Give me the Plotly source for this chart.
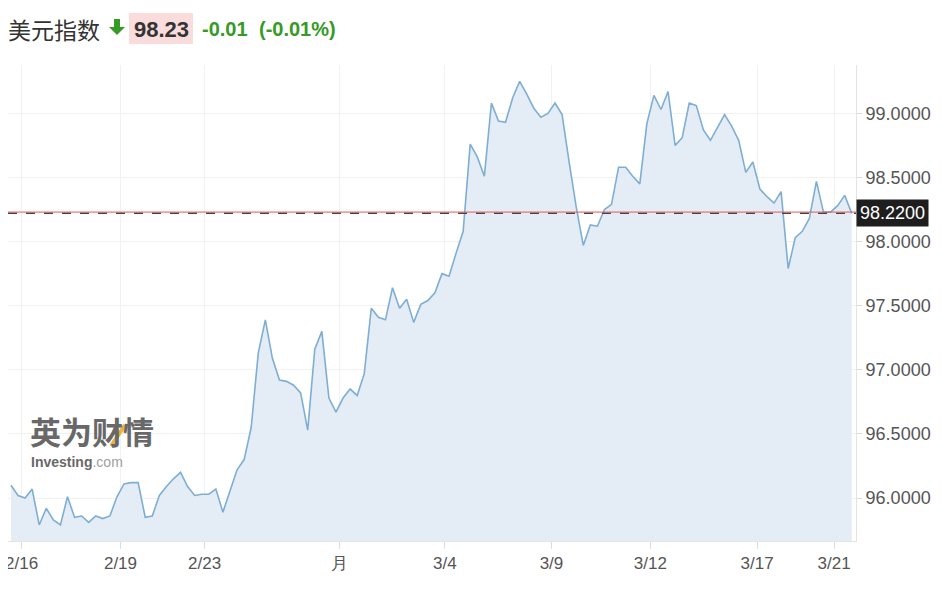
import plotly.graph_objects as go

# US dollar index, intraday closes (one value per bar)
dxy_close = [
    96.10, 96.02, 96.00, 96.07, 95.79, 95.92, 95.83, 95.79, 96.01, 95.85,
    95.86, 95.81, 95.86, 95.84, 95.86, 96.01, 96.11, 96.12, 96.12, 95.85,
    95.86, 96.02, 96.09, 96.15, 96.20, 96.09, 96.02, 96.03, 96.03, 96.07,
    95.89, 96.06, 96.22, 96.30, 96.55, 97.13, 97.39, 97.09, 96.92, 96.91,
    96.88, 96.82, 96.53, 97.16, 97.30, 96.78, 96.67, 96.78, 96.85, 96.80,
    96.97, 97.48, 97.41, 97.39, 97.64, 97.48, 97.55, 97.37, 97.51, 97.54,
    97.60, 97.75, 97.73, 97.91, 98.08, 98.76, 98.66, 98.51, 99.08, 98.94,
    98.93, 99.12, 99.25, 99.15, 99.04, 98.97, 99.00, 99.08, 98.99, 98.62,
    98.27, 97.97, 98.13, 98.12, 98.25, 98.29, 98.58, 98.58, 98.51, 98.45,
    98.92, 99.14, 99.03, 99.17, 98.75, 98.81, 99.08, 99.06, 98.87, 98.79,
    98.89, 98.99, 98.90, 98.79, 98.54, 98.62, 98.41, 98.35, 98.30, 98.39,
    97.79, 98.03, 98.08, 98.18, 98.47, 98.23, 98.23, 98.28, 98.36, 98.22,
]
tick_labels = ["2/16", "2/19", "2/23", "月", "3/4", "3/9", "3/12", "3/17", "3/21"]
tick_index = [1.5, 15.5, 27.4, 46.5, 61.4, 76.5, 90.5, 105.6, 116.5]
y_ticks = [96.0, 96.5, 97.0, 97.5, 98.0, 98.5, 99.0]

title = "美元指数"
last_price = "98.23"
change = "-0.01"
change_pct = "(-0.01%)"
current_level = 98.22

W, H = 942, 591
# the page body adds an 8px offset, so the plot area is placed in figure coords
OFF = 8
M_L, M_T = 0, 57
PW, PH = 848, 476
M_R, M_B = W - M_L - PW, H - M_T - PH

GREEN = "#359a26"
FONT = "Liberation Sans, Arial, sans-serif"


def px(sx):
    # screen x -> paper x
    return (sx - OFF - M_L) / PW


def py(sy):
    # screen y -> paper y
    return (M_T + PH - (sy - OFF)) / PH


x_idx = list(range(len(dxy_close)))

fig = go.Figure()
fig.add_trace(
    go.Scatter(
        x=x_idx,
        y=dxy_close,
        mode="lines",
        line=dict(color="#7eaed4", width=1.6),
        fill="tozeroy",
        fillcolor="#e4edf6",
        hoverinfo="skip",
        showlegend=False,
    )
)

shapes = [
    # current level: red line with a dashed line just under it
    dict(type="line", xref="paper", x0=0, x1=1, yref="y", y0=current_level, y1=current_level,
         line=dict(color="#444444", width=1.5, dash="dash")),
    dict(type="line", xref="paper", x0=0, x1=1, yref="y", y0=current_level + 0.01,
         y1=current_level + 0.01, line=dict(color="#e05a5a", width=1)),
    # pink box behind the last price
    dict(type="rect", xref="paper", yref="paper", x0=px(129), x1=px(193), y0=py(44), y1=py(13),
         fillcolor="#fadcdc", line=dict(width=0), layer="below"),
    # down arrow
    dict(type="path", xref="paper", yref="paper",
         path=(f"M {px(114)} {py(19)} L {px(120)} {py(19)} L {px(120)} {py(27)} "
               f"L {px(125)} {py(27)} L {px(117)} {py(35)} L {px(109)} {py(27)} "
               f"L {px(114)} {py(27)} Z"),
         fillcolor=GREEN, line=dict(width=0)),
    # orange stroke of the watermark logo
    dict(type="line", xref="paper", yref="paper", x0=px(111), x1=px(125), y0=py(446), y1=py(425),
         line=dict(color="#f2b236", width=4)),
]

annotations = [
    dict(text=title, xref="paper", yref="paper", x=px(6), y=py(29), xanchor="left",
         yanchor="middle", showarrow=False,
         font=dict(family="Noto Sans CJK SC", size=23, color="#333333")),
    dict(text=f"<b>{last_price}</b>", xref="paper", yref="paper", x=px(161), y=py(29),
         xanchor="center", yanchor="middle", showarrow=False,
         font=dict(family=FONT, size=22, color="#333333")),
    dict(text=f"<b>{change}</b>", xref="paper", yref="paper", x=px(200), y=py(29),
         xanchor="left", yanchor="middle", showarrow=False,
         font=dict(family=FONT, size=20, color=GREEN)),
    dict(text=f"<b>{change_pct}</b>", xref="paper", yref="paper", x=px(257), y=py(29),
         xanchor="left", yanchor="middle", showarrow=False,
         font=dict(family=FONT, size=20, color=GREEN)),
    # current level tag on the axis
    dict(text=f"{current_level:.4f}", xref="paper", yref="y", x=1, y=current_level,
         xanchor="left", yanchor="middle", showarrow=False, bgcolor="#1e1e1e",
         borderpad=3, font=dict(family=FONT, size=18, color="#ffffff")),
    # watermark
    dict(text="<b>英为财情</b>", xref="paper", yref="paper", x=px(28), y=py(431),
         xanchor="left", yanchor="middle", showarrow=False,
         font=dict(family="Noto Sans CJK SC", size=31, color="#686868")),
    dict(text="<b>Investing</b><span style='color:#a0a0a0'>.com</span>", xref="paper",
         yref="paper", x=px(29), y=py(462), xanchor="left", yanchor="middle",
         showarrow=False, font=dict(family=FONT, size=14, color="#686868")),
]

fig.update_layout(
    width=W,
    height=H,
    margin=dict(l=M_L, r=M_R, t=M_T, b=M_B, autoexpand=False),
    paper_bgcolor="#ffffff",
    plot_bgcolor="#ffffff",
    shapes=shapes,
    annotations=annotations,
    showlegend=False,
    xaxis=dict(
        range=[-0.42, 119.6],
        tickvals=tick_index,
        ticktext=tick_labels,
        ticks="outside",
        ticklen=7,
        tickcolor="#dddddd",
        ticklabeloverflow="allow",
        automargin=False,
        showgrid=True,
        gridcolor="#f1f1f1",
        showline=True,
        linecolor="#e3e3e3",
        zeroline=False,
        tickfont=dict(family=FONT, size=17, color="#555555"),
    ),
    yaxis=dict(
        side="right",
        range=[95.665, 99.377],
        tickvals=y_ticks,
        tickformat=".4f",
        ticks="outside",
        ticklen=5,
        tickcolor="#dddddd",
        automargin=False,
        showgrid=True,
        gridcolor="#f1f1f1",
        showline=True,
        linecolor="#e3e3e3",
        zeroline=False,
        tickfont=dict(family=FONT, size=18, color="#555555"),
    ),
)

fig.write_html("out.html")
